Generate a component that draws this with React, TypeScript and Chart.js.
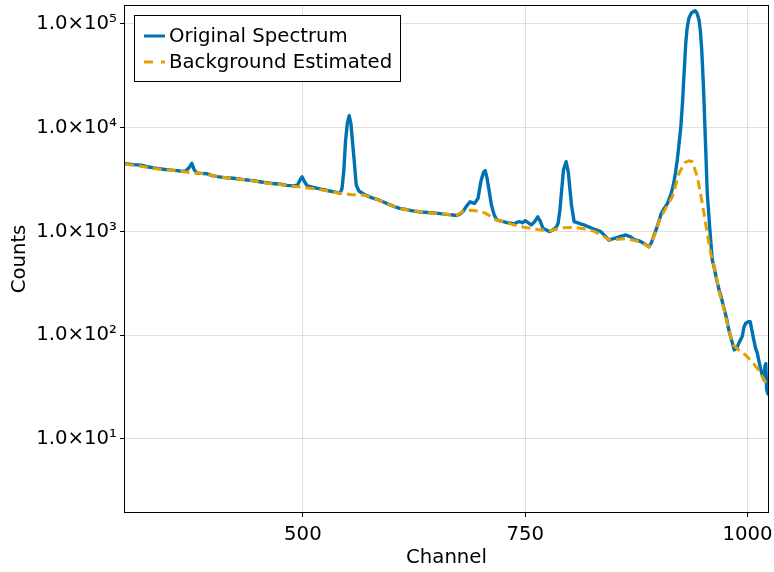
import { useEffect, useRef } from 'react';
import { Chart, registerables } from 'chart.js';

Chart.register(...registerables);

// ---- data ----
const spectrumChannels = [
  300, 310, 318, 325, 332, 345, 355, 362, 368, 372, 375, 378, 381, 392, 398, 404, 412, 422, 430, 437,
  445, 455, 463, 475, 482, 490, 494, 497, 499, 502, 505, 512, 519, 530, 538, 542, 544, 546, 548, 550,
  552, 554, 556, 558, 560, 563, 570, 578, 585, 592, 598, 604, 609, 617, 624, 633, 643, 652, 661, 668,
  673, 677, 680, 684, 688, 693, 697, 700, 703, 705, 707, 709, 712, 715, 718, 724, 729, 734, 738, 741,
  744, 747, 750, 754, 757, 761, 764, 767, 770, 774, 777, 781, 785, 787, 789, 791, 793, 796, 798.5, 800,
  802, 805, 810, 816, 822, 828, 832, 835, 840, 844, 849, 854, 858, 863, 868, 872, 876, 880, 885, 889,
  892, 895, 899, 903, 907, 910, 914, 917, 919, 921, 923, 925, 927, 928, 929.5, 930.5, 932, 934, 937, 941,
  943, 945.5, 947, 948.5, 950, 951, 952, 953, 954.7, 957.4, 960.3, 962, 965, 968, 970, 973, 976, 979, 982, 985,
  988, 990, 992, 994, 996, 998, 1001, 1003, 1005, 1007, 1009, 1011, 1013, 1015, 1017, 1018.5, 1019.5, 1020.5, 1021.5, 1023,
];
const spectrumCounts = [
  4500, 4400, 4350, 4200, 4100, 3950, 3880, 3820, 3800, 4100, 4550, 3900, 3650, 3600, 3450, 3370, 3300, 3250, 3180, 3130,
  3080, 2980, 2910, 2850, 2780, 2740, 2800, 3150, 3370, 3000, 2740, 2650, 2570, 2450, 2380, 2330, 2600, 3800, 7500, 11000,
  13100, 11000, 7000, 4500, 2800, 2450, 2250, 2100, 2010, 1900, 1800, 1720, 1670, 1620, 1575, 1540, 1515, 1490, 1460, 1440,
  1420, 1480, 1550, 1750, 1930, 1860, 2085, 3000, 3700, 3850, 3300, 2600, 1800, 1450, 1290, 1250, 1215, 1200, 1180, 1230,
  1240, 1210, 1270, 1200, 1155, 1250, 1385, 1250, 1070, 1030, 995, 1030, 1100, 1200, 1600, 2500, 3900, 4700, 3700, 2700,
  1800, 1240, 1200, 1155, 1100, 1045, 1020, 995, 900, 826, 850, 877, 900, 923, 890, 840, 820, 797, 750, 711,
  780, 923, 1150, 1495, 1700, 1865, 2300, 2910, 3700, 4890, 7000, 10240, 18000, 26800, 45000, 65200, 90000, 113600, 128000, 134400,
  128000, 109300, 85000, 56100, 30000, 18500, 10500, 6100, 2330, 1110, 530, 470, 350, 272, 240, 188, 150, 112, 90, 72,
  75, 83, 90, 97, 120, 130, 135, 135, 110, 90, 75, 67, 55, 46, 40, 37, 50, 53, 30, 27,
];

const backgroundChannels = [
  300, 318, 332, 350, 362, 375, 381, 392, 404, 422, 441, 463, 490, 500, 519, 542, 555, 570, 585, 598,
  609, 624, 643, 661, 673, 680, 688, 697, 705, 712, 718, 729, 738, 749, 764, 777, 790, 805, 816, 828,
  835, 845, 854, 863, 872, 880, 889, 895, 901, 910, 915.5, 923, 929.4, 934, 937.9, 943.5, 949.1, 954.7, 958.5, 962,
  968, 973, 979, 984, 990, 998, 1005, 1011, 1018, 1023,
];
const backgroundCounts = [
  4450, 4250, 4050, 3900, 3800, 3680, 3650, 3560, 3370, 3230, 3100, 2900, 2730, 2650, 2540, 2330, 2260, 2230, 2000, 1800,
  1670, 1575, 1515, 1460, 1430, 1560, 1600, 1575, 1500, 1385, 1280, 1215, 1150, 1095, 1045, 1010, 1080, 1090, 1060, 1000,
  923, 826, 840, 850, 820, 790, 711, 900, 1290, 1800, 2160, 3630, 4600, 4800, 4700, 3370, 1865, 955, 615, 480,
  265, 185, 112, 80, 72, 64, 55, 48, 38, 32,
];

const seriesNames = ['Original Spectrum', 'Background Estimated'];
const xTickValues = [500, 750, 1000];
const yTickValues = [10, 100, 1000, 10000, 100000];
const yTickLabels = ['1.0×10¹', '1.0×10²', '1.0×10³', '1.0×10⁴', '1.0×10⁵'];
const xTitle = 'Channel';
const yTitle = 'Counts';

const FONT = '"DejaVu Sans", sans-serif';
const FSIZE = 19.7;
const BLUE = '#0072B2';
const ORANGE = '#E69F00';

const zeroPadding = (s: any) => {
  s.paddingTop = 0;
  s.paddingBottom = 0;
  s.paddingLeft = 0;
  s.paddingRight = 0;
};

const framePlugin = {
  id: 'frameAndLegend',
  afterDraw(chart: any) {
    const { ctx, chartArea } = chart;
    ctx.save();
    // axis frame
    ctx.strokeStyle = '#000';
    ctx.lineWidth = 1;
    ctx.setLineDash([]);
    ctx.strokeRect(
      Math.round(chartArea.left) - 0.5,
      Math.round(chartArea.top) - 0.5,
      Math.round(chartArea.right - chartArea.left) + 1,
      Math.round(chartArea.bottom - chartArea.top) + 1
    );
    // legend box
    const x0 = 134.5, y0 = 15.5, w = 266, h = 66;
    ctx.fillStyle = '#fff';
    ctx.fillRect(x0, y0, w, h);
    ctx.strokeStyle = '#000';
    ctx.strokeRect(x0, y0, w, h);
    chart.data.datasets.forEach((ds: any, i: number) => {
      const cy = 36 + i * 26;
      ctx.strokeStyle = ds.borderColor;
      ctx.lineWidth = 3;
      ctx.setLineDash(i === 1 ? [9, 8] : []);
      ctx.beginPath();
      ctx.moveTo(144, cy);
      ctx.lineTo(165, cy);
      ctx.stroke();
      ctx.setLineDash([]);
      ctx.fillStyle = '#000';
      ctx.font = `${FSIZE}px ${FONT}`;
      ctx.textBaseline = 'middle';
      ctx.textAlign = 'left';
      ctx.fillText(ds.label, 169, cy + 1);
    });
    ctx.restore();
  },
};

export default function App() {
  const ref = useRef<HTMLCanvasElement | null>(null);

  useEffect(() => {
    if (!ref.current) return;
    const spectrum = spectrumChannels.map((x, i) => ({ x, y: spectrumCounts[i] }));
    const background = backgroundChannels.map((x, i) => ({ x, y: backgroundCounts[i] }));
    const chart = new Chart(ref.current, {
      type: 'line',
      data: {
        datasets: [
          {
            label: seriesNames[0],
            data: spectrum,
            borderColor: BLUE,
            borderWidth: 3.4,
            borderJoinStyle: 'round',
            borderCapStyle: 'round',
            pointRadius: 0,
            tension: 0.001,
            fill: false,
            order: 1,
          },
          {
            label: seriesNames[1],
            data: background,
            borderColor: ORANGE,
            borderWidth: 3,
            borderDash: [9, 5],
            borderJoinStyle: 'round',
            pointRadius: 0,
            tension: 0,
            fill: false,
            order: 0,
          },
        ],
      },
      options: {
        responsive: false,
        animation: false,
        layout: { padding: { top: 6, right: 6, left: 0, bottom: 0 } },
        plugins: {
          legend: { display: false },
          tooltip: { enabled: false },
        },
        scales: {
          x: {
            type: 'linear',
            min: 300,
            max: 1023,
            afterBuildTicks: (s: any) => {
              s.ticks = xTickValues.map((v) => ({ value: v }));
            },
            afterFit: (s: any) => {
              s.height = 60;
              zeroPadding(s);
            },
            border: { display: false },
            grid: { color: 'rgba(0,0,0,0.12)', tickColor: '#000', tickLength: 5, lineWidth: 1 },
            ticks: {
              color: '#000',
              font: { family: FONT, size: FSIZE },
              padding: 6,
              maxRotation: 0,
              autoSkip: false,
              callback: (v: any) => String(v),
            },
            title: {
              display: true,
              text: xTitle,
              color: '#000',
              font: { family: FONT, size: FSIZE },
              padding: { top: 0, bottom: 2 },
            },
          },
          y: {
            type: 'logarithmic',
            min: 1.97,
            max: 149000,
            afterBuildTicks: (s: any) => {
              s.ticks = yTickValues.map((v) => ({ value: v }));
            },
            afterFit: (s: any) => {
              s.width = 125;
              zeroPadding(s);
            },
            border: { display: false },
            grid: { color: 'rgba(0,0,0,0.12)', tickColor: '#000', tickLength: 5, lineWidth: 1 },
            ticks: {
              color: '#000',
              font: { family: FONT, size: FSIZE },
              padding: 3,
              autoSkip: false,
              callback: (v: any) => {
                const idx = yTickValues.indexOf(Number(v));
                return idx >= 0 ? yTickLabels[idx] : '';
              },
            },
            title: {
              display: true,
              text: yTitle,
              color: '#000',
              font: { family: FONT, size: FSIZE },
              padding: { top: 8, bottom: 0 },
            },
          },
        },
      },
      plugins: [framePlugin],
    } as any);
    return () => chart.destroy();
  }, []);

  return (
    <div style={{ position: 'absolute', left: 0, top: 0, width: 774, height: 572, background: '#fff' }}>
      <canvas ref={ref} width={774} height={572} style={{ display: 'block' }} />
    </div>
  );
}
